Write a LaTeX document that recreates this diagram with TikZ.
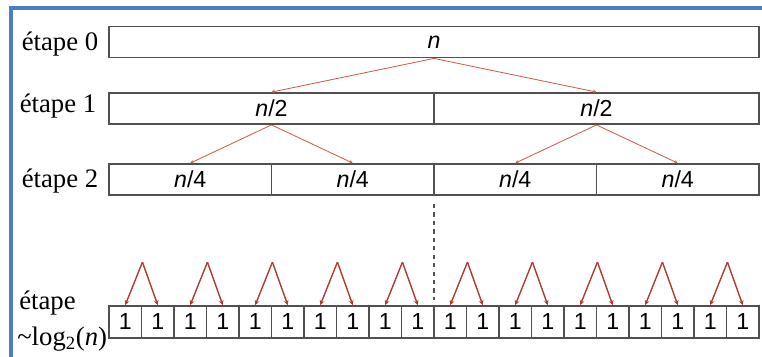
\documentclass[tikz,border=0pt]{standalone}
\usepackage{fontspec}
\setmainfont{Liberation Serif}
\newfontfamily\arialfont{Liberation Sans}
\usepackage{tikz}
\usetikzlibrary{calc}
\usetikzlibrary{arrows.meta}
\definecolor{boxgray}{RGB}{80,80,80}
\definecolor{arrred}{RGB}{210,90,80}
\definecolor{darkred}{RGB}{175,60,50}
\definecolor{framblue}{RGB}{75,125,195}
\tikzset{
    cell/.style={draw=boxgray, line width=1.3pt, inner sep=0, minimum height=0.775cm, font=\arialfont\fontsize{16.5}{19}\selectfont},
    split/.style={->, >={Stealth[length=2.5pt,width=2.5pt]}, draw=arrred, line width=0.6pt},
    leaf/.style={->, >={Stealth[length=3.5pt,width=3.5pt]}, draw=darkred, line width=1pt},
    lbl/.style={font=\fontsize{19}{22}\selectfont, inner sep=0}
}

\begin{document}
\begin{tikzpicture}[x=0.025cm,y=-0.025cm]
\useasboundingbox (0,0) rectangle (762,356);
\draw[framblue, line width=3pt] (11,360) -- (11,8) -- (770,8);
% rows 0 to 2
\node[cell, minimum width=16.25cm] (r0) at (434,42) {\raisebox{-2pt}{\textit{n}}};
\foreach \k/\x in {a/271.5, b/596.5}{
    \node[cell, minimum width=8.125cm] (r1\k) at (\x,108.5) {\textit{n}/2};
}
\foreach \k/\x in {a/190.25, b/352.75, c/515.25, d/677.75}{
    \node[cell, minimum width=4.0625cm] (r2\k) at (\x,179.5) {\textit{n}/4};
}
\draw[split] (r0.south) -- (r1a.north);
\draw[split] (r0.south) -- (r1b.north);
\draw[split] (r1a.south) -- (r2a.north);
\draw[split] (r1a.south) -- (r2b.north);
\draw[split] (r1b.south) -- (r2c.north);
\draw[split] (r1b.south) -- (r2d.north);
% last row
\foreach \i in {1,...,20}{
    \node[cell, minimum width=0.8125cm, minimum height=0.8cm] (c\i) at ({92.75+32.5*\i},322) {1};
}
\foreach \i in {1,...,10}{
    \pgfmathtruncatemacro{\ja}{2*\i-1}
    \pgfmathtruncatemacro{\jb}{2*\i}
    \coordinate (t\i) at ($(c\ja.north east)+(0,-43)$);
    \draw[leaf] (t\i) -- (c\ja.north);
    \draw[leaf] (t\i) -- (c\jb.north);
}
\coordinate (d1) at (434,204);
\coordinate (d2) at (434,300);
\draw[boxgray, dashed, line width=1pt] (d1) -- (d2);
% step labels
\node[lbl] (e0) at (60,44) {étape 0};
\node[lbl] (e1) at (58,106) {étape 1};
\node[lbl] (e2) at (60,181) {étape 2};
\node[lbl, anchor=west] (e3) at (19,303) {étape};
\node[lbl, anchor=west] (e4) at (17,339) {\textasciitilde log\textsubscript{2}(\textit{n})};
\end{tikzpicture}
\end{document}
